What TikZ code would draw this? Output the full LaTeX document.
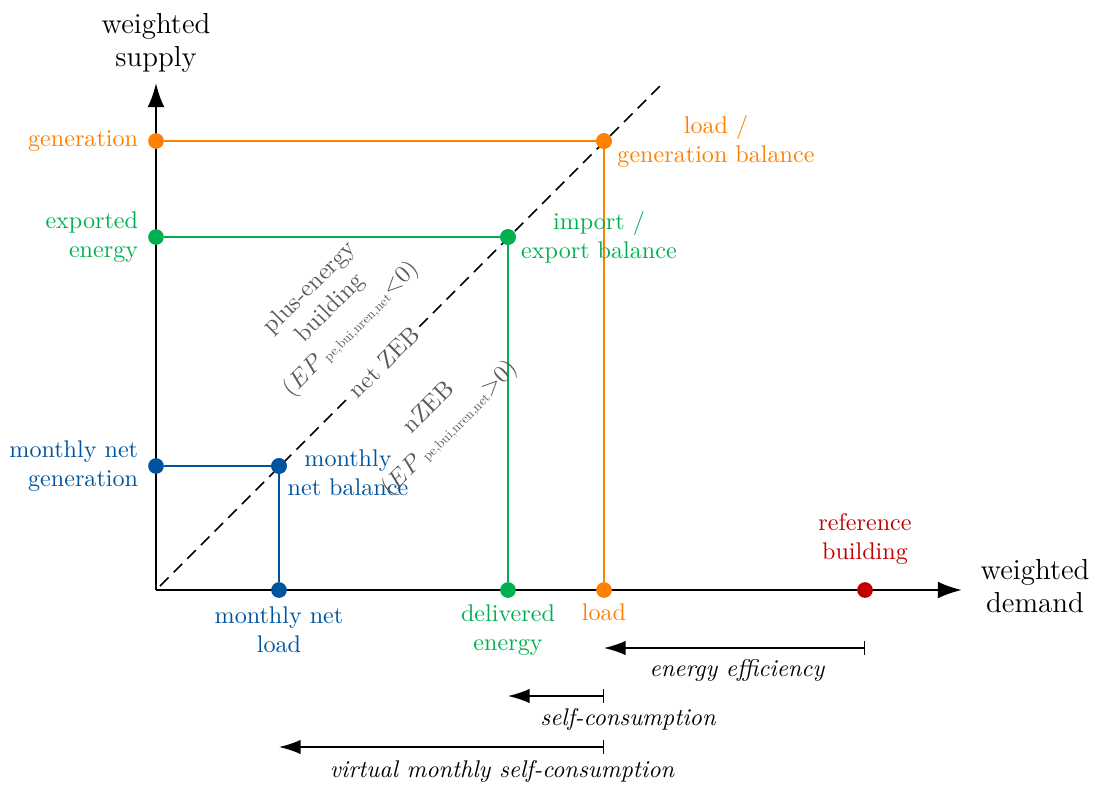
\documentclass[tikz,border=0pt]{standalone}
\usepackage{graphicx}
\usetikzlibrary{arrows.meta}
\definecolor{cOrange}{RGB}{255,128,0}
\definecolor{cGreen}{RGB}{0,176,80}
\definecolor{cBlue}{RGB}{0,84,159}
\definecolor{cRed}{RGB}{192,0,0}
% tiny index of the primary energy indicator
\newcommand{\epidx}[1]{$(EP$\,\raisebox{-0.8pt}{\scalebox{0.56}{pe,bui,nren,net}}${#1}0)$}
\begin{document}
\begin{tikzpicture}[x=0.4145pt,y=-0.4145pt,
  axis/.style={line width=1pt,-{Latex[length=10pt,width=7pt]}},
  dot/.style={circle,fill=#1,inner sep=0pt,minimum size=6.5pt},
  link/.style={line width=0.6pt,draw=#1},
  lbl/.style={font=\normalsize,inner sep=1pt},
  big/.style={font=\large,align=center,inner sep=1pt},
  rot/.style={text=black!65,align=center,rotate=45,inner sep=1pt},
  meas/.style={line width=0.6pt,{Bar[width=6pt]}-{Latex[length=9pt,width=6pt]}},
  mlbl/.style={font=\itshape,inner sep=1pt}]
\useasboundingbox (0,0) rectangle (1096,784);

% axes
\coordinate (O) at (156,590);
\coordinate (yTip) at (156,83);
\coordinate (xTip) at (962,590);

% balance line
\coordinate (dStart) at (160,586);
\coordinate (dEnd) at (660,86);
\draw[line width=0.65pt,dash pattern=on 5pt off 3pt] (dStart) -- (dEnd);

\draw[axis] (O) -- (yTip);
\draw[axis] (O) -- (xTip);

% points on the axes and on the balance line
\node[dot=cOrange] (gen) at (156,141) {};
\node[dot=cGreen]  (exp) at (156,237) {};
\node[dot=cBlue]   (mng) at (156,466) {};
\node[dot=cBlue]   (mnl) at (279,590) {};
\node[dot=cGreen]  (del) at (508,590) {};
\node[dot=cOrange] (load) at (604,590) {};
\node[dot=cRed]    (ref) at (865,590) {};
\node[dot=cBlue]   (mnb) at (279,466) {};
\node[dot=cGreen]  (ieb) at (508,237) {};
\node[dot=cOrange] (lgb) at (604,141) {};

\draw[link=cBlue]   (mng) -- (mnb) -- (mnl);
\draw[link=cGreen]  (exp) -- (ieb) -- (del);
\draw[link=cOrange] (gen) -- (lgb) -- (load);
\node[dot=cBlue] at (mnb) {};
\node[dot=cGreen] at (ieb) {};
\node[dot=cOrange] at (lgb) {};

% axis titles
\node[big] (ySup) at (156,43) {weighted\\supply};
\node[big] (xDem) at (1035,586) {weighted\\demand};

% point labels
\node[lbl,text=cOrange,anchor=east] (genL) at (141,141) {generation};
\node[lbl,text=cGreen,anchor=east,align=right] (expL) at (141,237) {exported\\energy};
\node[lbl,text=cBlue,anchor=east,align=right] (mngL) at (141,466) {monthly net\\generation};
\node[lbl,text=cBlue,align=center] (mnlL) at (279,630) {monthly net\\load};
\node[lbl,text=cGreen,align=center] (delL) at (508,630) {delivered\\energy};
\node[lbl,text=cOrange] (loadL) at (604,612) {load};
\node[lbl,text=cRed,align=center] (refL) at (865,539) {reference\\building};
\node[lbl,text=cBlue,align=center] (mnbL) at (348,473) {monthly\\net balance};
\node[lbl,text=cGreen,align=center] (iebL) at (599,237) {import /\\export balance};
\node[lbl,text=cOrange,align=center] (lgbL) at (716,141) {load /\\generation balance};

% regions around the balance line
\node[rot] (plusL) at (331,309) {plus-energy\\building\\\epidx{<}};
\node[rot,fill=white,inner sep=2pt] (zebL) at (384,362) {net ZEB};
\node[rot] (nzebL) at (440,419) {nZEB\\\epidx{>}};

% measures
\coordinate (eeA) at (865,648);
\coordinate (eeB) at (604,648);
\draw[meas] (eeA) -- (eeB);
\node[mlbl] (eeL) at (737,670) {energy efficiency};

\coordinate (scA) at (604,696);
\coordinate (scB) at (508,696);
\draw[meas] (scA) -- (scB);
\node[mlbl] (scL) at (628,719) {self-consumption};

\coordinate (vmA) at (604,747);
\coordinate (vmB) at (279,747);
\draw[meas] (vmA) -- (vmB);
\node[mlbl] (vmL) at (502,771) {virtual monthly self-consumption};
\end{tikzpicture}
\end{document}
